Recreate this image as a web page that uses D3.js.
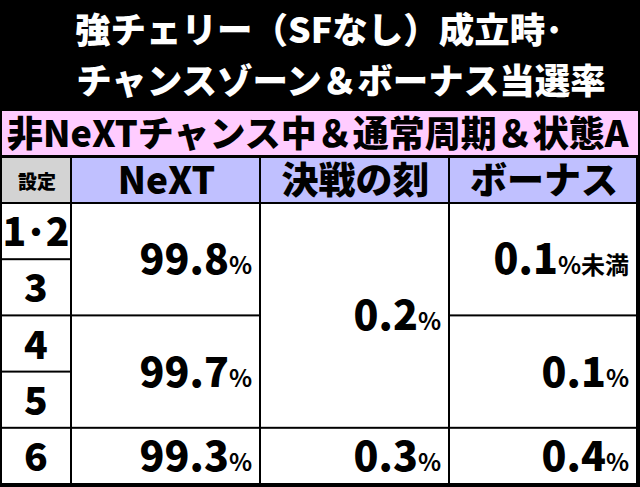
<!DOCTYPE html>
<html><head><meta charset="utf-8">
<script src="https://cdn.jsdelivr.net/npm/d3@7"></script>
<style>body{margin:0;background:#000}svg{display:block}text{font-family:"Noto Sans CJK JP";font-weight:900}</style>
</head><body><svg id="c" width="640" height="487"></svg>
<script>
const titleLines=["強チェリー（SFなし）成立時･","チャンスゾーン＆ボーナス当選率"];
const subtitle="非NeXTチャンス中＆通常周期＆状態A";
const headers=["設定","NeXT","決戦の刻","ボーナス"];
const settings=["1･2","3","4","5","6"];
// merged cells: [startRow, rowSpan, value, suffix]
const nextVals=[[0,2,"99.8"],[2,2,"99.7"],[4,1,"99.3"]];
const kessenVals=[[0,4,"0.2"],[4,1,"0.3"]];
const bonusVals=[[0,2,"0.1","%未満"],[2,2,"0.1","%"],[4,1,"0.4","%"]];

const svg=d3.select("#c");
const colEdges=[2,72,261,450,638];
const x=d3.scaleOrdinal().domain([0,1,2,3,4]).range(colEdges);
const y=d3.scaleLinear().domain([0,5]).range([204,485]);
svg.append("rect").attr("width",640).attr("height",487).attr("fill","#000");
svg.selectAll(".t").data(titleLines).join("text").attr("x",(d,i)=>[319,341][i]).attr("y",(d,i)=>[43,94][i])
 .attr("text-anchor","middle").attr("fill","#fff").attr("font-size",35.5).text(d=>d);
svg.append("rect").attr("x",2).attr("y",111).attr("width",636).attr("height",44).attr("fill","#ffccff");
svg.append("text").attr("x",7).attr("y",147).attr("font-size",36).attr("fill","#000").text(subtitle);
const hfill=["#d3d3d3","#c0c0ff","#c0c0ff","#c0c0ff"];
headers.forEach((h,i)=>{
 svg.append("rect").attr("x",x(i)).attr("y",158).attr("width",x(i+1)-x(i)-2).attr("height",44).attr("fill",hfill[i]);
 svg.append("text").attr("x",(x(i)+x(i+1))/2).attr("y",i==0?189:194).attr("text-anchor","middle")
  .attr("font-size",i==0?19:37).text(h);
});
settings.forEach((s,r)=>{
 svg.append("rect").attr("x",2).attr("y",y(r)).attr("width",68).attr("height",y(r+1)-y(r)-2).attr("fill","#fff");
 svg.append("text").attr("x",36).attr("y",(y(r)+y(r+1))/2+14).attr("text-anchor","middle").attr("font-size",39).text(s);
});
function col(ci,vals){
 vals.forEach(([r,span,v,suf])=>{
  const y0=y(r),y1=y(r+span);
  svg.append("rect").attr("x",x(ci)).attr("y",y0).attr("width",x(ci+1)-x(ci)-2).attr("height",y1-y0-2).attr("fill","#fff");
  const t=svg.append("text").attr("x",x(ci+1)-9).attr("y",(y0+y1)/2+14).attr("text-anchor","end");
  t.append("tspan").attr("font-size",41).text(v);
  t.append("tspan").attr("font-size",24).attr("font-weight",700).text(suf||"%");
 });
}
col(1,nextVals);col(2,kessenVals);col(3,bonusVals);
</script></body></html>
